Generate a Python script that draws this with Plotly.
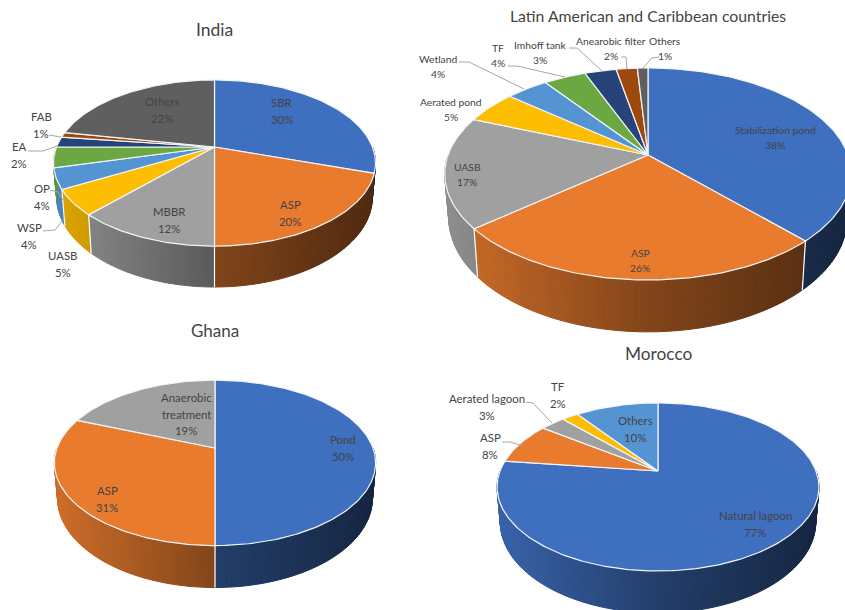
import numpy as np
import plotly.graph_objects as go

# ---- data ----
india_labels = ["SBR", "ASP", "MBBR", "UASB", "WSP", "OP", "EA", "FAB", "Others"]
india_values = [30, 20, 12, 5, 4, 4, 2, 1, 22]
latin_labels = ["Stabilization pond", "ASP", "UASB", "Aerated pond", "Wetland", "TF",
                "Imhoff tank", "Anearobic filter", "Others"]
latin_values = [38, 26, 17, 5, 4, 4, 3, 2, 1]
ghana_labels = ["Pond", "ASP", "Anaerobic<br>treatment"]
ghana_values = [50, 31, 19]
morocco_labels = ["Natural lagoon", "ASP", "Aerated lagoon", "TF", "Others"]
morocco_values = [77, 8, 3, 2, 10]

# ---- style ----
palette = ["#3F6FBF", "#E97B2E", "#A0A0A0", "#FDBD00", "#5594D2", "#6BA842", "#264478", "#9E480E", "#5F5F5F"]
TEXT = "#444444"
FONT = "Lato, 'Noto Sans', sans-serif"
W, H = 845, 610

# ---- layout: pixel-like canvas for the four pies ----
pies = [
    dict(title="India", tpos=(214, 29), tsize=17.5, lsize=11.4, lstep=16.3, labels=india_labels, values=india_values,
         cx=214.5, cy=147, rx=158, ry=80, k=0.193, D=33,
         lpos=[(282, 111), (290, 213), (169, 220), (62.5, 264), (29, 236), (42, 197), (19, 155), (41, 125), (162, 110)],
         leaders=[[(49, 135), (61, 137)], [(28, 151), (43, 151), (57, 146)],
                  [(50, 190), (58, 192), (63, 200)], [(43, 231), (55, 230), (63, 220)]]),
    dict(title="Latin American and Caribbean countries", tpos=(648, 15), tsize=15.8, lsize=10.3, lstep=15,
         labels=latin_labels, values=latin_values,
         cx=648, cy=155, rx=200, ry=102.6, k=0.179, D=42.6,
         lpos=[(775, 137), (640, 260), (467, 174), (451, 109), (438, 66), (498, 55), (540, 52), (611, 48), (665, 48)],
         leaders=[[(459, 62), (469, 62), (524, 89)], [(508, 66), (517, 66), (565, 77)],
                  [(569, 48), (577, 48), (602, 71)], [(621, 57), (626, 57), (627, 69)],
                  [(659, 57), (652, 58), (643, 68)]]),
    dict(title="Ghana", tpos=(215, 330), tsize=17, lsize=11.4, lstep=16.3, labels=ghana_labels, values=ghana_values,
         cx=215, cy=448, rx=158, ry=80, k=0.18, D=34.4,
         lpos=[(343, 448), (107, 499), (186, 414)], leaders=[]),
    dict(title="Morocco", tpos=(659, 353), tsize=17.3, lsize=11.4, lstep=16.3, labels=morocco_labels, values=morocco_values,
         cx=658, cy=471, rx=158, ry=81, k=0.19, D=34,
         lpos=[(755, 524), (490, 446), (487, 407), (558, 395), (635, 429)],
         leaders=[[(526, 402), (533, 403), (552, 423)], [(502, 442), (510, 442), (520, 445)]]),
]

SHADE_T = [0.0, 0.5, 1.0]
SHADE_F = [0.88, 0.56, 0.34]
BOTTOM_SCALE = 0.98
STRIP_DEG = 1.5


def project(p, theta):
    """Perspective projection of the pie's top face rim; theta clockwise from 12 o'clock."""
    u, v = np.sin(theta), np.cos(theta)
    w = 1 + p["k"] * v
    return p["rx"] * u / w, p["ry"] * v / w, w


def top_xy(p, theta):
    X, Y, _ = project(p, theta)
    return p["cx"] + X, p["cy"] - Y


def bottom_xy(p, theta):
    X, Y, w = project(p, theta)
    return p["cx"] + BOTTOM_SCALE * X, p["cy"] - Y + p["D"] / w


def shade(hex_color, f):
    r, g, b = [int(hex_color[i:i + 2], 16) for i in (1, 3, 5)]
    return f"rgb({r * f:.0f},{g * f:.0f},{b * f:.0f})"


fig = go.Figure()
annotations = []


def add_poly(xs, ys, fill, line_color, line_width):
    fig.add_trace(go.Scatter(x=list(xs), y=list(ys), mode="lines", fill="toself", fillcolor=fill,
                             line=dict(color=line_color, width=line_width), hoverinfo="skip", showlegend=False))


for p in pies:
    vals = np.array(p["values"], dtype=float)
    edges = np.concatenate([[0], np.cumsum(vals) / vals.sum() * 2 * np.pi])
    colors = palette[:len(vals)]

    # side wall, drawn as narrow shaded strips
    for i, col in enumerate(colors):
        a, b = max(edges[i], np.radians(90)), min(edges[i + 1], np.radians(270))
        if b <= a:
            continue
        n = max(1, int(np.degrees(b - a) / STRIP_DEG))
        th = np.linspace(a, b, n + 1)
        for j in range(n):
            t0, t1 = th[j], th[j + 1]
            x0, y0 = top_xy(p, t0)
            x1, y1 = top_xy(p, t1)
            x2, y2 = bottom_xy(p, t1)
            x3, y3 = bottom_xy(p, t0)
            tx = ((x0 + x1) / 2 - (p["cx"] - p["rx"])) / (2 * p["rx"])
            c = shade(col, float(np.interp(tx, SHADE_T, SHADE_F)))
            add_poly([x0, x1, x2, x3, x0], [y0, y1, y2, y3, y0], c, c, 1.0)
    # white dividers between wall segments
    for e in edges[:-1]:
        if np.radians(112) < e < np.radians(250):
            x0, y0 = top_xy(p, e)
            x1, y1 = bottom_xy(p, e)
            fig.add_trace(go.Scatter(x=[x0, x1], y=[y0, y1], mode="lines", line=dict(color="white", width=1.2),
                                     hoverinfo="skip", showlegend=False))

    # top face
    for i, col in enumerate(colors):
        th = np.linspace(edges[i], edges[i + 1], max(3, int(np.degrees(edges[i + 1] - edges[i]))))
        xs, ys = top_xy(p, th)
        add_poly(np.r_[p["cx"], xs, p["cx"]], np.r_[p["cy"], ys, p["cy"]], col, "#F2F5FA", 1.2)

    # leader lines
    for seg in p["leaders"]:
        fig.add_trace(go.Scatter(x=[q[0] for q in seg], y=[q[1] for q in seg], mode="lines",
                                 line=dict(color="#A6A6A6", width=1), hoverinfo="skip", showlegend=False))

    # text
    annotations.append(dict(x=p["tpos"][0], y=p["tpos"][1], text=p["title"], xref="x", yref="y", showarrow=False,
                            xanchor="center", yanchor="middle", font=dict(family=FONT, size=p["tsize"], color=TEXT)))
    for lab, val, (lx, ly) in zip(p["labels"], p["values"], p["lpos"]):
        lines = lab.split("<br>") + [f"{val}%"]
        for n_line, line in enumerate(lines):
            annotations.append(dict(x=lx, y=ly + (n_line - (len(lines) - 1) / 2) * p["lstep"], text=line,
                                    xref="x", yref="y", showarrow=False, xanchor="center", yanchor="middle",
                                    font=dict(family=FONT, size=p["lsize"], color=TEXT)))

fig.update_layout(
    width=W, height=H, margin=dict(l=0, r=0, t=0, b=0), paper_bgcolor="white", plot_bgcolor="white",
    xaxis=dict(range=[0, W], visible=False, fixedrange=True),
    yaxis=dict(range=[H, 0], visible=False, fixedrange=True),
    annotations=annotations, showlegend=False,
)
fig.write_html("out.html", config=dict(displayModeBar=False), default_width=f"{W}px", default_height=f"{H}px",
               post_script="document.body.style.margin='0';")
